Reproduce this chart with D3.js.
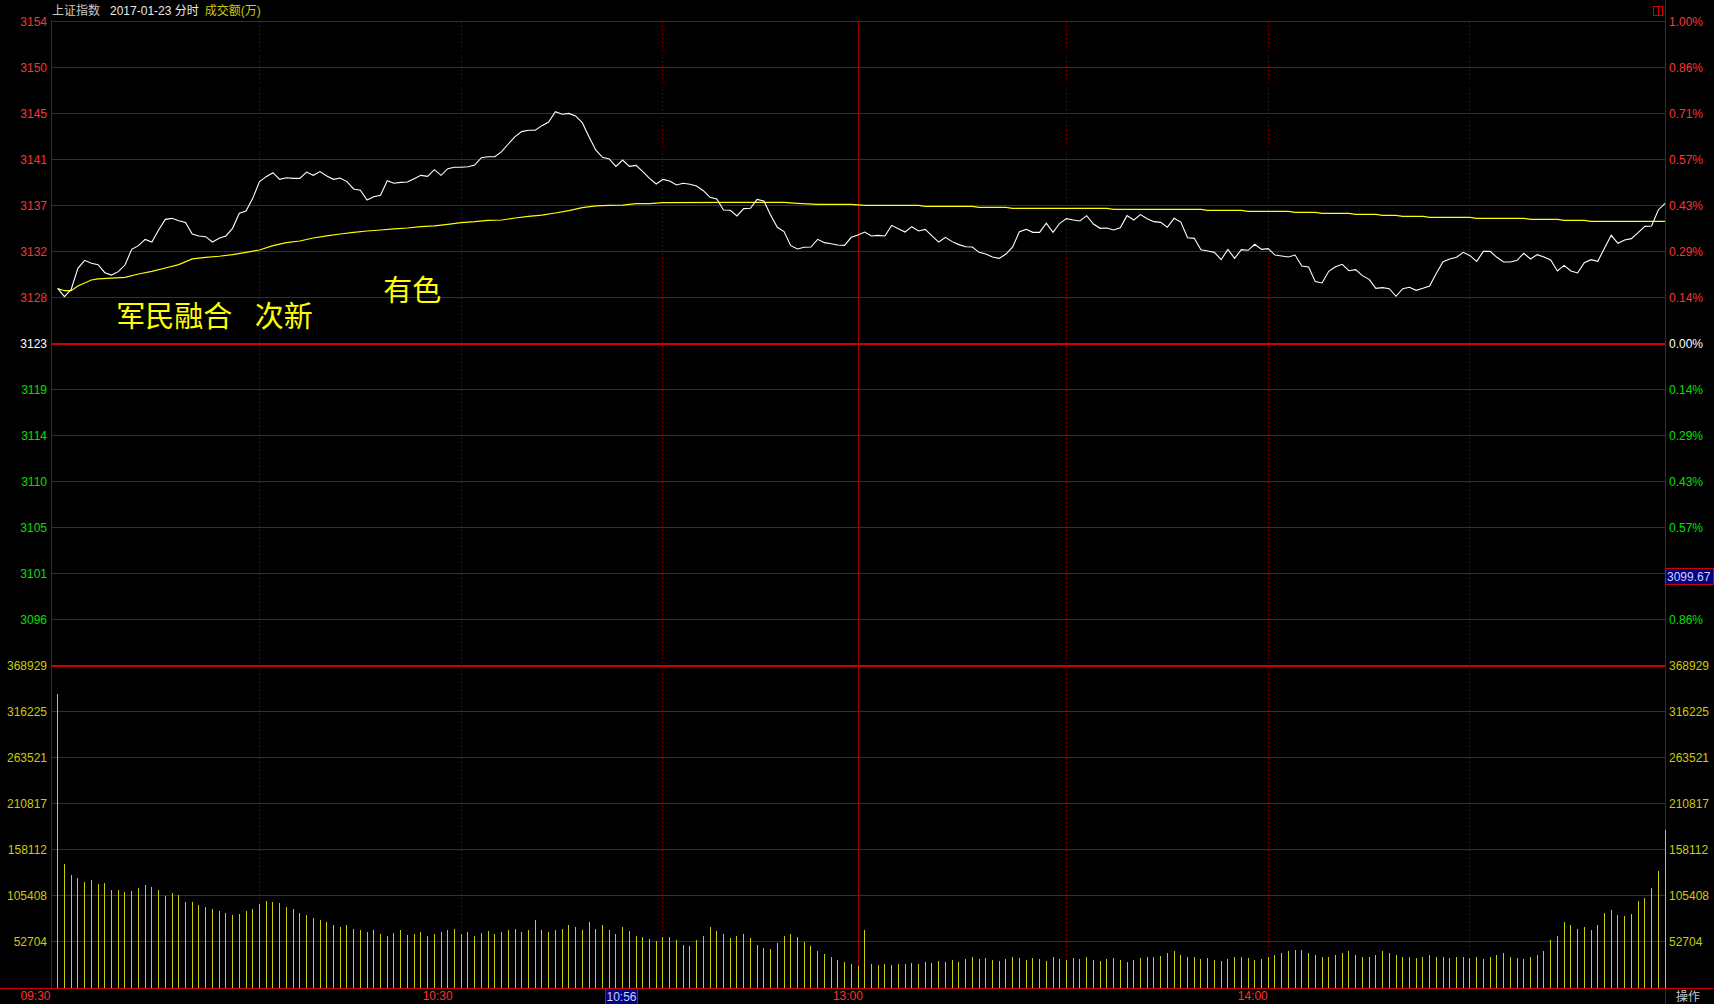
<!DOCTYPE html>
<html>
<head>
<meta charset="utf-8">
<script src="https://cdn.jsdelivr.net/npm/d3@7"></script>
<style>
  body { margin: 0; background: #000; overflow: hidden; }
  svg { display: block; }
  text { font-family: "Liberation Sans", Arial, "Noto Sans CJK SC", sans-serif; font-size: 12px; }
</style>
</head>
<body>
<svg width="1714" height="1004"></svg>
<script>
// ---- data ----
const PRE_CLOSE = 3123.14;
const CURSOR_PRICE = 3099.67;
const CURSOR_MINUTE = 86;     // 10:56
const PRICE_LABELS = ['3154','3150','3145','3141','3137','3132','3128','3123','3119','3114','3110','3105','3101','3096'];
const PCT_LABELS = ['1.00%','0.86%','0.71%','0.57%','0.43%','0.29%','0.14%','0.00%','0.14%','0.29%','0.43%','0.57%','0.71%','0.86%'];
const VOL_MAX = 368929;
const VOL_LABELS = [368929, 316225, 263521, 210817, 158112, 105408, 52704];
const TIME_LABELS = ['09:30', '10:30', '13:00', '14:00'];
const TIME_LABEL_AT = [-3.3, 56.5, 117.5, 177.7];
const GRID_MINUTES = [30, 60, 90, 150, 180, 210];
const NOON_MINUTE = 119;

const PRICE = [
  3128.49,3127.68,3128.39,3130.43,3131.21,3130.92,3130.79,3130.01,3129.78,3130.11,
  3130.75,3132.27,3132.63,3133.24,3132.98,3134.15,3135.18,3135.28,3135.05,3134.89,
  3133.76,3133.57,3133.50,3132.98,3133.34,3133.57,3134.31,3135.77,3135.99,3137.22,
  3138.84,3139.32,3139.71,3139.06,3139.22,3139.16,3139.16,3139.77,3139.45,3139.81,
  3139.39,3139.06,3139.19,3138.84,3138.13,3138.00,3137.06,3137.38,3137.51,3138.93,
  3138.68,3138.77,3138.80,3139.13,3139.45,3139.35,3140.00,3139.45,3140.10,3140.23,
  3140.23,3140.29,3140.45,3141.16,3141.26,3141.26,3141.75,3142.49,3143.20,3143.69,
  3143.82,3143.82,3144.27,3144.62,3145.63,3145.37,3145.46,3145.21,3144.56,3143.20,
  3141.91,3141.20,3141.04,3140.32,3140.94,3140.32,3140.42,3139.81,3139.16,3138.61,
  3139.06,3138.90,3138.51,3138.68,3138.58,3138.42,3137.96,3137.32,3137.16,3136.09,
  3136.06,3135.51,3136.22,3136.25,3137.12,3136.96,3135.60,3134.41,3133.99,3132.63,
  3132.31,3132.47,3132.50,3133.24,3132.92,3132.82,3132.69,3132.66,3133.44,3133.66,
  3133.95,3133.57,3133.63,3133.57,3134.60,3134.28,3133.95,3134.47,3134.05,3134.21,
  3133.57,3132.98,3133.44,3133.02,3132.73,3132.53,3132.50,3131.98,3131.82,3131.53,
  3131.40,3131.82,3132.50,3133.99,3134.21,3133.92,3133.92,3134.80,3133.92,3134.80,
  3135.25,3135.12,3135.02,3135.54,3134.73,3134.31,3134.34,3134.15,3134.37,3135.54,
  3135.12,3135.64,3135.25,3134.96,3134.89,3134.41,3135.28,3134.92,3133.40,3133.34,
  3132.24,3132.11,3131.98,3131.27,3132.27,3131.40,3132.24,3132.18,3132.76,3132.27,
  3132.34,3131.72,3131.63,3131.53,3131.72,3130.66,3130.56,3129.14,3129.01,3130.14,
  3130.59,3130.82,3130.20,3130.30,3129.72,3129.36,3128.49,3128.56,3128.46,3127.72,
  3128.46,3128.59,3128.30,3128.49,3128.72,3129.95,3131.08,3131.34,3131.50,3131.98,
  3131.66,3131.11,3132.08,3132.08,3131.50,3131.05,3131.05,3131.21,3131.89,3131.34,
  3131.76,3131.53,3131.24,3130.17,3130.72,3130.17,3129.98,3130.98,3131.27,3131.11,
  3132.37,3133.63,3132.86,3133.18,3133.31,3133.89,3134.50,3134.54,3136.09,3136.74
];

const AVG_AT = [0,1,2,3,4,5,6,8,10,12,14,16,18,20,22,24,26,28,30,32,34,36,38,40,42,44,46,48,
  50,52,54,56,58,60,62,64,66,68,70,72,74,76,78,80,82,84,86,88,90,100,108,110,113,118,120,
  128,129,136,137,141,142,156,157,170,171,176,177,183,184,187,188,192,193,196,197,199,200,
  203,204,210,211,218,219,223,224,227,228,239];
const AVG = [3128.46,3128.26,3128.26,3128.72,3129.01,3129.30,3129.40,3129.49,3129.56,3129.88,
  3130.14,3130.46,3130.79,3131.34,3131.50,3131.60,3131.76,3131.98,3132.21,3132.63,3132.92,
  3133.08,3133.37,3133.57,3133.76,3133.92,3134.05,3134.15,3134.25,3134.34,3134.47,3134.54,
  3134.70,3134.86,3134.96,3135.09,3135.12,3135.31,3135.47,3135.60,3135.80,3136.02,3136.31,
  3136.48,3136.54,3136.57,3136.70,3136.70,3136.80,3136.83,3136.83,3136.74,3136.64,3136.64,
  3136.54,3136.54,3136.44,3136.44,3136.35,3136.35,3136.25,3136.25,3136.15,3136.15,3136.06,
  3136.06,3135.96,3135.96,3135.86,3135.86,3135.77,3135.77,3135.67,3135.67,3135.57,3135.57,
  3135.47,3135.47,3135.38,3135.38,3135.28,3135.28,3135.18,3135.18,3135.09,3135.09,3134.99,3134.99];

const VOLUME = [
  336800,142100,129500,126000,121400,123700,119200,119900,112300,112300,
  110000,111500,114600,118000,115700,112300,105400,108500,106500,98500,
  98500,95100,93000,90000,88000,86000,84000,85000,88000,90000,
  96000,100000,98000,97000,93000,90000,86000,84000,80000,78000,
  76000,72000,70000,72000,68000,66000,64000,66000,62000,60000,
  63000,66000,61000,62000,64000,60000,62000,64000,66000,68000,
  62000,64000,60000,63000,65000,62000,64000,66000,68000,64000,
  66000,78000,66000,64000,66000,68000,72000,70000,66000,75000,
  68000,72000,66000,62000,70000,65000,60000,58000,56000,54000,
  58800,58800,55000,48800,47500,55000,60000,70000,65000,61300,
  57500,60000,61300,57500,48800,46300,45000,52000,60000,61300,
  58800,52500,47500,42500,38800,35000,32500,30000,27500,25000,
  66000,28000,26000,27000,26000,28000,27000,29000,28000,30000,
  29000,31000,30000,32000,30000,33000,35000,33000,34000,32000,
  31000,33000,36000,34000,32000,34000,33000,31000,35000,33000,
  32000,34000,33000,35000,32000,31000,33000,34000,32000,30000,
  32000,34000,36000,35000,37000,40000,42000,38000,36000,35000,
  33000,34000,32000,31000,33000,35000,36000,34000,32000,33000,
  35000,38000,40000,42000,44000,43000,40000,38000,36000,35000,
  38000,40000,42000,38000,36000,35000,38000,42000,40000,38000,
  36000,35000,34000,36000,38000,36000,35000,34000,35000,36000,
  34000,35000,33000,36000,38000,40000,36000,34000,33000,35000,
  38000,42000,55000,60000,75000,72000,68000,70000,66000,72000,
  86300,89400,83600,82900,84800,99700,103500,114900,134400,181000
];

const NOTES = [
  { text: '军民融合', minute: 8.7,  price: 3124.74 },
  { text: '次新',     minute: 29.3, price: 3124.74 },
  { text: '有色',     minute: 48.4, price: 3127.26 },
];

// ---- layout ----
const W = 1714, H = 1004;
const LEFT = 51, RIGHT = 1665, TOP = 21.5, MID = 665.5, BOTTOM = 988;
const RED = '#ff3232', GREEN = '#00e000', WHITE = '#ffffff', VOLC = '#cccc00';
const GRID = '#a00000', GRID_STRONG = '#d00000';

const step = PRE_CLOSE * 0.01 / 7;
const x = d3.scaleLinear().domain([-1, 239]).range([LEFT, RIGHT]);
const yPrice = d3.scaleLinear().domain([PRE_CLOSE - 7 * step, PRE_CLOSE + 7 * step]).range([MID, TOP]);
const yVol = d3.scaleLinear().domain([0, VOL_MAX]).range([BOTTOM, MID]);

const svg = d3.select('svg');
svg.append('rect').attr('width', W).attr('height', H).attr('fill', '#000');

const rowY = PRICE_LABELS.map((d, k) => yPrice(PRE_CLOSE + (7 - k) * step));
const rowColor = k => k < 7 ? RED : (k === 7 ? WHITE : GREEN);

// horizontal grid
const grid = svg.append('g').attr('shape-rendering', 'crispEdges');
grid.selectAll('.hrow')
  .data(rowY.filter((d, k) => k !== 7).concat(VOL_LABELS.slice(1).map(v => yVol(v))))
  .enter().append('line')
  .attr('x1', LEFT).attr('x2', RIGHT)
  .attr('y1', d => Math.floor(d) + 0.5).attr('y2', d => Math.floor(d) + 0.5)
  .attr('stroke', GRID).attr('stroke-width', 1);

// strong lines: pre-close and volume top
grid.selectAll('.strong')
  .data([yPrice(PRE_CLOSE), yVol(VOL_MAX)])
  .enter().append('rect')
  .attr('x', LEFT).attr('width', RIGHT - LEFT)
  .attr('y', d => Math.floor(d)).attr('height', 2)
  .attr('fill', GRID_STRONG);

// vertical grid
grid.selectAll('.vdot')
  .data(GRID_MINUTES)
  .enter().append('line')
  .attr('x1', d => Math.floor(x(d)) + 0.5).attr('x2', d => Math.floor(x(d)) + 0.5)
  .attr('y1', TOP).attr('y2', BOTTOM)
  .attr('stroke', GRID).attr('stroke-dasharray', '1,3');

grid.append('line')
  .attr('x1', Math.floor(x(NOON_MINUTE)) + 0.5).attr('x2', Math.floor(x(NOON_MINUTE)) + 0.5)
  .attr('y1', TOP).attr('y2', BOTTOM)
  .attr('stroke', GRID);

// frame
grid.append('line').attr('x1', LEFT + 0.5).attr('x2', LEFT + 0.5).attr('y1', 20).attr('y2', BOTTOM).attr('stroke', GRID);
grid.append('line').attr('x1', RIGHT + 0.5).attr('x2', RIGHT + 0.5).attr('y1', 0).attr('y2', H).attr('stroke', GRID);
grid.append('line').attr('x1', 0).attr('x2', W).attr('y1', BOTTOM + 0.5).attr('y2', BOTTOM + 0.5).attr('stroke', GRID_STRONG);

// volume bars
svg.append('g').attr('shape-rendering', 'crispEdges')
  .selectAll('line')
  .data(VOLUME)
  .enter().append('line')
  .attr('x1', (d, i) => Math.floor(x(i)) + 0.5).attr('x2', (d, i) => Math.floor(x(i)) + 0.5)
  .attr('y1', BOTTOM).attr('y2', d => Math.round(yVol(d)))
  .attr('stroke', VOLC);

// average price line
const avgLine = d3.line().x(d => x(d[0])).y(d => yPrice(d[1]));
svg.append('path')
  .datum(AVG_AT.map((m, k) => [m, AVG[k]]))
  .attr('d', avgLine)
  .attr('fill', 'none').attr('stroke', '#ffff00').attr('stroke-width', 1.2);

// price line
const priceLine = d3.line().x((d, i) => x(i)).y(d => yPrice(d));
svg.append('path')
  .datum(PRICE)
  .attr('d', priceLine)
  .attr('fill', 'none').attr('stroke', '#ffffff').attr('stroke-width', 1.1);

// left labels
svg.selectAll('.lp')
  .data(PRICE_LABELS)
  .enter().append('text')
  .attr('x', 47).attr('y', (d, k) => rowY[k]).attr('dy', '0.36em')
  .attr('text-anchor', 'end').attr('fill', (d, k) => rowColor(k))
  .text(d => d);

svg.selectAll('.lv')
  .data(VOL_LABELS)
  .enter().append('text')
  .attr('x', 47).attr('y', d => yVol(d)).attr('dy', '0.36em')
  .attr('text-anchor', 'end').attr('fill', VOLC)
  .text(d => d);

// right labels (the one under the cursor price box is hidden by it)
const cy = yPrice(CURSOR_PRICE);
svg.selectAll('.rp')
  .data(PCT_LABELS.map((t, k) => ({ t, k })).filter(d => Math.abs(rowY[d.k] - (cy - 8)) > 10))
  .enter().append('text')
  .attr('x', RIGHT + 4).attr('y', d => rowY[d.k]).attr('dy', '0.36em')
  .attr('fill', d => rowColor(d.k))
  .text(d => d.t);

svg.selectAll('.rv')
  .data(VOL_LABELS)
  .enter().append('text')
  .attr('x', RIGHT + 4).attr('y', d => yVol(d)).attr('dy', '0.36em')
  .attr('fill', VOLC)
  .text(d => d);

// time labels
svg.selectAll('.tl')
  .data(TIME_LABELS)
  .enter().append('text')
  .attr('x', (d, k) => x(TIME_LABEL_AT[k])).attr('y', 996).attr('dy', '0.36em')
  .attr('text-anchor', 'middle').attr('fill', RED)
  .text(d => d);

// cursor boxes
svg.append('rect').attr('x', RIGHT + 0.5).attr('y', Math.round(cy) - 16.5).attr('width', 48).attr('height', 16)
  .attr('fill', '#000080').attr('stroke', GRID_STRONG).attr('shape-rendering', 'crispEdges');
svg.append('text').attr('x', RIGHT + 2).attr('y', Math.round(cy) - 8).attr('dy', '0.36em')
  .attr('fill', '#d0d0ff').text(CURSOR_PRICE.toFixed(2));

const cx = x(CURSOR_MINUTE);
svg.append('rect').attr('x', Math.round(cx) - 30.5).attr('y', BOTTOM + 0.5).attr('width', 32).attr('height', 16)
  .attr('fill', '#000080').attr('stroke', GRID_STRONG).attr('shape-rendering', 'crispEdges');
svg.append('text').attr('x', Math.round(cx) - 14.5).attr('y', 996.5).attr('dy', '0.36em')
  .attr('text-anchor', 'middle').attr('fill', '#d0d0ff').text('10:56');

// header
const head = svg.append('text').attr('x', 52).attr('y', 11).attr('dy', '0.36em');
head.append('tspan').attr('fill', '#c8c8c8').text('上证指数');
head.append('tspan').attr('dx', 10).attr('fill', '#e8e8e8').text('2017-01-23 分时');
head.append('tspan').attr('dx', 6).attr('fill', VOLC).text('成交额(万)');

svg.append('text').attr('x', 1676).attr('y', 997).attr('dy', '0.36em').attr('fill', '#c8c8c8').text('操作');

// restore icon top right
svg.append('rect').attr('x', 1653.5).attr('y', 6.5).attr('width', 9).attr('height', 9)
  .attr('fill', 'none').attr('stroke', GRID_STRONG).attr('shape-rendering', 'crispEdges');
svg.append('line').attr('x1', 1658.5).attr('x2', 1658.5).attr('y1', 6.5).attr('y2', 15.5)
  .attr('stroke', GRID_STRONG).attr('shape-rendering', 'crispEdges');

// annotations
svg.selectAll('.note')
  .data(NOTES)
  .enter().append('text')
  .attr('x', d => x(d.minute)).attr('y', d => yPrice(d.price))
  .attr('fill', '#ffff00')
  .style('font-family', '"Noto Sans CJK SC", sans-serif').style('font-size', '29px')
  .text(d => d.text);
</script>
</body>
</html>
